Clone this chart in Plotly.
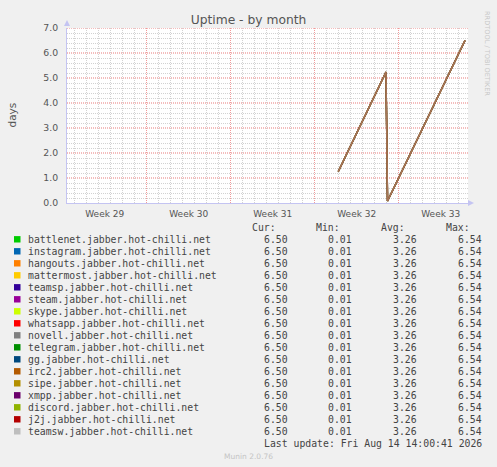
import plotly.graph_objects as go

# ---------------- data ----------------
hosts = [
    "battlenet.jabber.hot-chilli.net",
    "instagram.jabber.hot-chilli.net",
    "hangouts.jabber.hot-chilli.net",
    "mattermost.jabber.hot-chilli.net",
    "teamsp.jabber.hot-chilli.net",
    "steam.jabber.hot-chilli.net",
    "skype.jabber.hot-chilli.net",
    "whatsapp.jabber.hot-chilli.net",
    "novell.jabber.hot-chilli.net",
    "telegram.jabber.hot-chilli.net",
    "gg.jabber.hot-chilli.net",
    "irc2.jabber.hot-chilli.net",
    "sipe.jabber.hot-chilli.net",
    "xmpp.jabber.hot-chilli.net",
    "discord.jabber.hot-chilli.net",
    "j2j.jabber.hot-chilli.net",
    "teamsw.jabber.hot-chilli.net",
]
# uptime (days) – identical for every host
times = ["2026-08-03 23:10", "2026-08-07 22:35", "2026-08-08 01:40", "2026-08-14 12:35"]
uptime = [1.26, 5.24, 0.08, 6.50]

cur_vals = [6.50] * len(hosts)
min_vals = [0.01] * len(hosts)
avg_vals = [3.26] * len(hosts)
max_vals = [6.54] * len(hosts)

week_labels = ["Week 29", "Week 30", "Week 31", "Week 32", "Week 33"]
week_centers = ["2026-07-15 12:00", "2026-07-22 12:00", "2026-07-29 12:00",
                "2026-08-05 12:00", "2026-08-12 12:00"]
x_range = ["2026-07-12 08:35", "2026-08-14 18:35"]
y_range = [0, 7]
y_major = [1, 2, 3, 4, 5, 6, 7]
last_update = "Last update: Fri Aug 14 14:00:41 2026"

# ---------------- style ----------------
colors = ["#00CC00", "#0066B3", "#FF8000", "#FFCC00", "#330099", "#990099",
          "#CCFF00", "#FF0000", "#808080", "#008F00", "#00487D", "#B35A00",
          "#B38F00", "#6B006B", "#8FB300", "#B30000", "#BEBEBE"]

W, H = 497, 467
L, R, T, B = 67, 29, 28, 264
PW, PH = W - L - R, H - T - B


def px2x(px):
    return (px - L) / PW


def py2y(py):
    return (H - B - py) / PH


def rgba(hexc, a):
    hexc = hexc.lstrip("#")
    r, g, b = int(hexc[0:2], 16), int(hexc[2:4], 16), int(hexc[4:6], 16)
    return f"rgba({r},{g},{b},{a})"


fig = go.Figure()
for name, col in zip(hosts, colors):
    fig.add_trace(go.Scatter(
        x=times, y=uptime, mode="lines", name=name,
        line=dict(color=rgba(col, 0.4), width=1.4),
        showlegend=False, xaxis="x", yaxis="y",
    ))

MAJ = "#f09a9a"
MAJ_H = "#e87a7a"
MIN = "#d2d2d2"
AXC = "#c4c4f2"
TXT = "#555555"
DOT = "1px,1px"

y_minor = [round(k * 0.2, 1) for k in range(36) if k % 5 != 0]

fig.update_layout(
    width=W, height=H,
    margin=dict(l=L, r=R, t=T, b=B, pad=0),
    paper_bgcolor="#F0F0F0",
    plot_bgcolor="#FFFFFF",
    font=dict(family="DejaVu Sans", size=9, color=TXT),
    title=dict(text="Uptime - by month", x=0.5, xref="container", xanchor="center",
               y=1 - 19.5 / H, yref="container", yanchor="middle",
               font=dict(family="DejaVu Sans", size=12.3, color="#555555")),
    xaxis=dict(
        type="date", range=x_range, tickmode="array",
        tickvals=week_centers, ticktext=week_labels,
        showgrid=False, zeroline=False, ticks="", showline=True,
        linecolor=AXC, linewidth=1, ticklabelstandoff=2,
        tickfont=dict(family="DejaVu Sans", size=9, color=TXT),
        fixedrange=True,
    ),
    xaxis2=dict(
        type="date", range=x_range, overlaying="x", side="bottom",
        tickmode="linear", tick0="2026-07-19", dtick=7 * 86400000,
        showticklabels=False, ticks="", showline=False, zeroline=False,
        showgrid=True, gridcolor=MAJ, griddash=DOT, gridwidth=1,
        minor=dict(tick0="2026-07-12", dtick=86400000, showgrid=True,
                   gridcolor=MIN, griddash=DOT, gridwidth=1),
        layer="below traces",
    ),
    yaxis=dict(
        range=y_range, tickmode="linear", tick0=0, dtick=1,
        tickformat=".1f", showgrid=False,
        minor=dict(tickmode="array", tickvals=y_minor, showgrid=True,
                   gridcolor=MIN, griddash=DOT, gridwidth=1),
        zeroline=False, ticks="", showline=True, linecolor=AXC, linewidth=1,
        ticklabelstandoff=6,
        tickfont=dict(family="DejaVu Sans", size=9.3, color=TXT),
        fixedrange=True,
    ),
)
# invisible trace so the overlay grid axis is drawn
fig.add_trace(go.Scatter(x=[x_range[0]], y=[None], xaxis="x2", yaxis="y",
                         showlegend=False, hoverinfo="skip"))

ann = []
shapes = []
# major horizontal grid lines (red dotted), positioned on the y scale
for v in y_major:
    shapes.append(dict(type="line", xref="paper", yref="y", x0=0, x1=1, y0=v, y1=v,
                       line=dict(color=MAJ_H, width=1, dash=DOT), layer="below"))
# y-axis title
ann.append(dict(text="days", x=px2x(11), y=0.5, xref="paper", yref="paper",
                textangle=-90, showarrow=False, xanchor="center", yanchor="middle",
                font=dict(family="DejaVu Sans", size=10.5, color=TXT)))
# watermark
ann.append(dict(text="RRDTOOL / TOBI OETIKER", x=px2x(487), y=py2y(53), xref="paper",
                yref="paper", textangle=90, showarrow=False, xanchor="center",
                yanchor="middle", font=dict(family="DejaVu Sans", size=6.6, color="#c8c8c8")))
# axis arrows
shapes.append(dict(type="path", xref="paper", yref="paper",
                   path=f"M {px2x(64)} {py2y(26)} L {px2x(70)} {py2y(26)} L {px2x(67)} {py2y(20)} Z",
                   fillcolor=AXC, line=dict(width=0)))
shapes.append(dict(type="path", xref="paper", yref="paper",
                   path=f"M {px2x(468)} {py2y(200)} L {px2x(468)} {py2y(206)} L {px2x(474)} {py2y(203)} Z",
                   fillcolor=AXC, line=dict(width=0)))

MONO = dict(family="DejaVu Sans Mono", size=9.8, color="#444444")
col_right = [288.5, 353.3, 418, 482.7]
headers = ["Cur:", "Min:", "Avg:", "Max:"]
for h, xr in zip(headers, col_right):
    ann.append(dict(text=h, x=px2x(xr - 12), y=py2y(227.3), xref="paper", yref="paper",
                    showarrow=False, xanchor="right", yanchor="middle", font=MONO,
                    borderpad=0))
for i, (name, col) in enumerate(zip(hosts, colors)):
    yc = 239.3 + 12 * i
    shapes.append(dict(type="rect", xref="paper", yref="paper",
                       x0=px2x(14), x1=px2x(20.5), y0=py2y(yc - 3.2), y1=py2y(yc + 3.2),
                       fillcolor=col, line=dict(width=0)))
    ann.append(dict(text=name, x=px2x(26.5), y=py2y(yc), xref="paper", yref="paper",
                    showarrow=False, xanchor="left", yanchor="middle", font=MONO,
                    borderpad=0))
    for v, xr in zip([cur_vals[i], min_vals[i], avg_vals[i], max_vals[i]], col_right):
        ann.append(dict(text=f"{v:.2f}", x=px2x(xr), y=py2y(yc), xref="paper", yref="paper",
                        showarrow=False, xanchor="right", yanchor="middle", font=MONO,
                        borderpad=0))
ann.append(dict(text=last_update, x=px2x(482.7), y=py2y(443.3), xref="paper", yref="paper",
                showarrow=False, xanchor="right", yanchor="middle", font=MONO, borderpad=0))
ann.append(dict(text="Munin 2.0.76", x=px2x(248), xref="paper", y=py2y(456), yref="paper",
                showarrow=False, xanchor="center", yanchor="middle",
                font=dict(family="DejaVu Sans", size=7.5, color="#c4c4c4")))

fig.update_layout(annotations=ann, shapes=shapes)
fig.write_html(
    "out.html",
    config=dict(displayModeBar=False, staticPlot=True),
    post_script="document.body.style.margin='0';document.body.style.padding='0';"
                "document.body.style.background='#F0F0F0';",
)
